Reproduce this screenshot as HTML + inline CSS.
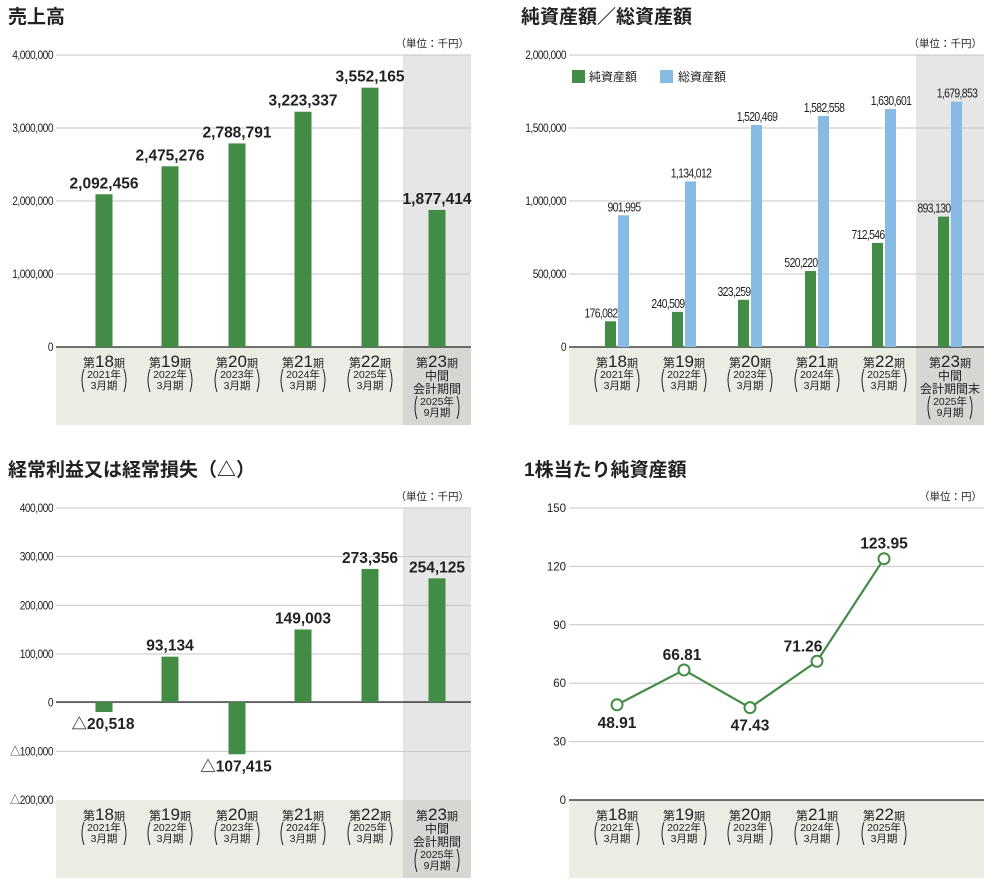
<!DOCTYPE html>
<html><head><meta charset="utf-8">
<style>
html,body{margin:0;padding:0;background:#fff;}
svg{display:block;font-family:"Liberation Sans","Noto Sans CJK JP",sans-serif;}
</style></head>
<body>
<svg id="s" width="987" height="883" viewBox="0 0 987 883" xmlns="http://www.w3.org/2000/svg"></svg>
<script>
var s=document.getElementById('s'),h='';
var G='#428c45',B='#88bbe4',GR='#c6c6c6',BAND='#e9ede4',GC='#e6e6e6',GB='#d6d7d2',TX='#222';
function t(x,y,str,sz,anc,wt,extra){h+='<text x="'+x+'" y="'+y+'" font-size="'+sz+'" text-anchor="'+(anc||'middle')+'" font-weight="'+(wt||'normal')+'" fill="'+TX+'" '+(extra||'')+'>'+str+'</text>';}
function r(x,y,w,hh,c){h+='<rect x="'+x+'" y="'+y+'" width="'+w+'" height="'+hh+'" fill="'+c+'"/>';}
function l(x1,y1,x2,y2,c,w){h+='<line x1="'+x1+'" y1="'+y1+'" x2="'+x2+'" y2="'+y2+'" stroke="'+c+'" stroke-width="'+(w||1)+'"/>';}
function tick(x,y,str){var sc=0.85;h+='<text x="'+(x/sc)+'" y="'+y+'" font-size="12" text-anchor="end" fill="'+TX+'" letter-spacing="-0.6" transform="scale('+sc+',1)">'+str+'</text>';}
function br(c,y1,y2,hw){
  var m=(y1+y2)/2;
  h+='<path d="M'+(c-hw)+' '+y1+' Q'+(c-hw-4)+' '+m+' '+(c-hw)+' '+y2+'" stroke="'+TX+'" fill="none" stroke-width="1"/>';
  h+='<path d="M'+(c+hw)+' '+y1+' Q'+(c+hw+4)+' '+m+' '+(c+hw)+' '+y2+'" stroke="'+TX+'" fill="none" stroke-width="1"/>';
}
function catBlock(yb,centers,lastMid){
  for(var i=0;i<centers.length;i++){
    var c=centers[i],n=18+i,y=yb;
    h+='<text x="'+c+'" y="'+(y+20)+'" text-anchor="middle" fill="'+TX+'"><tspan font-size="12">第</tspan><tspan font-size="17">'+n+'</tspan><tspan font-size="11">期</tspan></text>';
    if(i==5){
      t(c,y+33,'中間',12);t(c,y+46,lastMid,12);
      t(c,y+58,'2025年',10.5);t(c,y+69,'9月期',10.5);
      br(c,y+49,y+72,20);
    } else {
      t(c,y+31,(2021+i)+'年',10.5);t(c,y+42,'3月期',10.5);
      br(c,y+22,y+45,20);
    }
  }
}
var C1=[104,170,237,303,370,437],C2=[617,684,750,817,884,950];

// ---- Chart 1
t(8,23,'売上高',19,'start','bold');
r(56,347,347,78,BAND);r(403,55,68,292,GC);r(403,347,68,78,GB);
for(var k=0;k<=4;k++){var y=55+k*73;if(k<4)l(56,y,471,y,GR);tick(53,y+4,((4-k)==0?'0':(4-k)+',000,000'));}
l(56,347,471,347,'#222',1.2);
t(469,47,'（単位：千円）',10.5,'end');
var v1=[2092456,2475276,2788791,3223337,3552165,1877414],lb1=['2,092,456','2,475,276','2,788,791','3,223,337','3,552,165','1,877,414'];
for(var i=0;i<6;i++){var hh=v1[i]/4000000*292;r(C1[i]-8.5,347-hh,17,hh,G);t(C1[i],347-hh-6,lb1[i],15.5,'middle','bold');}
catBlock(347,C1,'会計期間');

// ---- Chart 2
t(521,23,'純資産額／総資産額',19,'start','bold');
r(569,347,347,78,BAND);r(916,55,68,292,GC);r(916,347,68,78,GB);
var yl2=['2,000,000','1,500,000','1,000,000','500,000','0'];
for(var k=0;k<=4;k++){var y=55+k*73;if(k<4)l(569,y,984,y,GR);tick(566,y+4,yl2[k]);}
l(569,347,984,347,'#222',1.2);
t(982,47,'（単位：千円）',10.5,'end');
r(572,70,13,13,G);t(589,81,'純資産額',12,'start');r(660,70,13,13,B);t(678,81,'総資産額',12,'start');
var ng=[176082,240509,323259,520220,712546,893130],tb=[901995,1134012,1520469,1582558,1630601,1679853];
var lg=['176,082','240,509','323,259','520,220','712,546','893,130'],lbb=['901,995','1,134,012','1,520,469','1,582,558','1,630,601','1,679,853'];
function cl(x,y,str){var sc=0.8;h+='<text x="'+(x/sc)+'" y="'+y+'" font-size="13" text-anchor="middle" fill="'+TX+'" letter-spacing="-0.8" transform="scale('+sc+',1)">'+str+'</text>';}
for(var i=0;i<6;i++){
  var hg=ng[i]/2000000*292,hb=tb[i]/2000000*292,c=C2[i];
  r(c-12,347-hg,11,hg,G);r(c+1,347-hb,11,hb,B);
  cl(c-16,347-hg-4,lg[i]);
  cl(c+7,347-hb-4,lbb[i]);
}
catBlock(347,C2,'会計期間末');

// ---- Chart 3
t(8,476,'経常利益又は経常損失（△）',19,'start','bold');
r(56,800,347,78,BAND);r(403,508,68,292,GC);r(403,800,68,78,GB);
var yl3=['400,000','300,000','200,000','100,000','0','△100,000','△200,000'];
for(var k=0;k<=6;k++){var y=508+k*48.67;if(k<6)l(56,y,471,y,GR);tick(53,y+4,yl3[k]);}
l(56,702,471,702,'#222',1.2);
t(469,500,'（単位：千円）',10.5,'end');
var v3=[-20518,93134,-107415,149003,273356,254125],lb3=['△20,518','93,134','△107,415','149,003','273,356','254,125'];
for(var i=0;i<6;i++){var hh=Math.abs(v3[i])/100000*48.67;
  if(v3[i]>=0){r(C1[i]-8.5,702-hh,17,hh,G);t(C1[i],702-hh-6,lb3[i],15.5,'middle','bold');}
  else{r(C1[i]-8.5,702,17,hh,G);t(C1[i]-1,702+hh+17,lb3[i],15.5,'middle','bold');}}
catBlock(800,C1,'会計期間');

// ---- Chart 4
t(524,476,'1株当たり純資産額',19,'start','bold');
r(569,800,415,78,BAND);
var yl4=['150','120','90','60','30','0'];
for(var k=0;k<=5;k++){var y=508+k*58.4;if(k<5)l(569,y,984,y,GR);t(566,y+4,yl4[k],11.5,'end');}
l(569,800,984,800,'#222',1.2);
t(982,500,'（単位：円）',10.5,'end');
var v4=[48.91,66.81,47.43,71.26,123.95],lb4=['48.91','66.81','47.43','71.26','123.95'],pts=[];
for(var i=0;i<5;i++){pts.push(C2[i]+','+(800-v4[i]/150*292));}
h+='<polyline points="'+pts.join(' ')+'" fill="none" stroke="'+G+'" stroke-width="2.2"/>';
var off=[22,-10,22,-10,-10],dx=[0,-2,0,-14,0];
for(var i=0;i<5;i++){var y=800-v4[i]/150*292;
  h+='<circle cx="'+C2[i]+'" cy="'+y+'" r="5.5" fill="#fff" stroke="'+G+'" stroke-width="2"/>';
  t(C2[i]+dx[i],y+off[i]+(off[i]>0?1:0),lb4[i],15.5,'middle','bold');}
for(var i=0;i<5;i++){var c=C2[i],y=800;
  h+='<text x="'+c+'" y="'+(y+20)+'" text-anchor="middle" fill="'+TX+'"><tspan font-size="12">第</tspan><tspan font-size="17">'+(18+i)+'</tspan><tspan font-size="11">期</tspan></text>';
  t(c,y+31,(2021+i)+'年',10.5);t(c,y+42,'3月期',10.5);br(c,y+22,y+45,20);}
s.innerHTML=h;
</script>
</body></html>
